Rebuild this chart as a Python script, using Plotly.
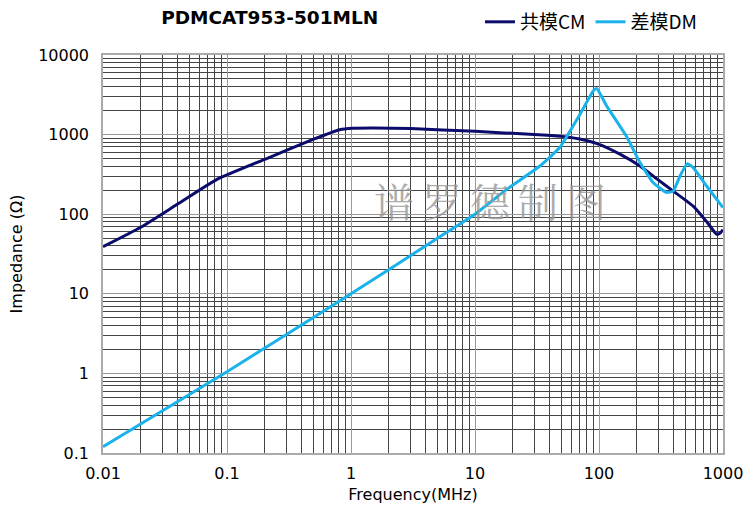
import plotly.graph_objects as go

title = "PDMCAT953-501MLN"
cm_name = "共模CM"
dm_name = "差模DM"

cm_freq = [0.01, 0.02, 0.04, 0.083, 0.209, 0.5, 0.81, 1.03, 1.5, 3, 10, 30, 50, 70, 99, 150, 214, 300, 397, 575, 750, 889, 950, 1000]
cm_imp = [39, 68, 134, 274, 500, 875, 1150, 1200, 1210, 1190, 1100, 1000, 950, 880, 760, 560, 403, 270, 195, 126, 78, 56, 58, 64]

dm_freq = [0.01, 0.1, 1, 5.2, 10, 18, 33.4, 48.4, 70.3, 90, 96, 115, 130, 166, 214, 273, 350, 397, 450, 516, 575, 738, 1000]
dm_imp = [0.12, 1.05, 10, 52, 100, 205, 403, 693, 1800, 3550, 3800, 2300, 1720, 957, 445, 250, 187, 195, 302, 432, 385, 226, 121]

y_ticks = [0.1, 1, 10, 100, 1000, 10000]
y_labels = ["0.1", "1", "10", "100", "1000", "10000"]
x_ticks = [0.01, 0.1, 1, 10, 100, 1000]
x_labels = ["0.01", "0.1", "1", "10", "100", "1000"]

fig = go.Figure()
fig.add_trace(go.Scatter(x=cm_freq, y=cm_imp, mode="lines", name=cm_name,
                         line=dict(color="#0b0b6b", width=3, shape="spline", smoothing=0.5)))
fig.add_trace(go.Scatter(x=dm_freq, y=dm_imp, mode="lines", name=dm_name,
                         line=dict(color="#1ab2ea", width=3, shape="spline", smoothing=0.4)))

axis_font = dict(family="DejaVu Sans, sans-serif", size=16, color="#000")
fig.update_xaxes(type="log", range=[-2, 3], tickvals=x_ticks, ticktext=x_labels,
                 showgrid=True, gridcolor="#999", gridwidth=1.2,
                 minor=dict(dtick="D1", showgrid=True, gridcolor="#444", gridwidth=0.8, ticks=""),
                 showline=True, linecolor="#aaa", linewidth=1.5, mirror=True,
                 ticks="", tickfont=axis_font, zeroline=False, ticklabelstandoff=5,
                 automargin=False, ticklabeloverflow="allow",
                 title=dict(text="Frequency(MHz)", font=axis_font, standoff=7))
fig.update_yaxes(type="log", range=[-1, 4], tickvals=y_ticks, ticktext=y_labels,
                 showgrid=True, gridcolor="#999", gridwidth=1.2,
                 minor=dict(dtick="D1", showgrid=True, gridcolor="#444", gridwidth=0.8, ticks=""),
                 showline=True, linecolor="#aaa", linewidth=1.5, mirror=True,
                 ticks="", tickfont=axis_font, zeroline=False, ticklabelstandoff=9,
                 automargin=False,
                 title=dict(text="Impedance (Ω)", font=axis_font, standoff=12))

fig.add_annotation(text="谱\u2009罗\u2009德\u2009制\u2009图", xref="paper", yref="paper", x=0.624, y=0.636,
                   showarrow=False, font=dict(family="Noto Serif CJK SC, serif", size=40, color="rgba(150,150,150,0.8)"))

fig.update_layout(
    width=745, height=507,
    margin=dict(l=103, r=22, t=55, b=54, autoexpand=False),
    plot_bgcolor="white", paper_bgcolor="white",
    title=dict(text="<b>" + title + "</b>", x=0.362, xanchor="center", y=1 - 18 / 507, yanchor="middle",
               font=dict(family="DejaVu Sans, sans-serif", size=18.5, color="#000")),
    legend=dict(orientation="h", x=0.608, y=1.083, xanchor="left", yanchor="middle",
                font=dict(family="Noto Sans CJK SC, Liberation Sans", size=19, color="#000"),
                bgcolor="rgba(0,0,0,0)", itemwidth=30),
    showlegend=True,
)

fig.write_html("out.html", config={"displayModeBar": False},
               post_script="document.body.style.margin='0';document.body.style.overflow='hidden';")
